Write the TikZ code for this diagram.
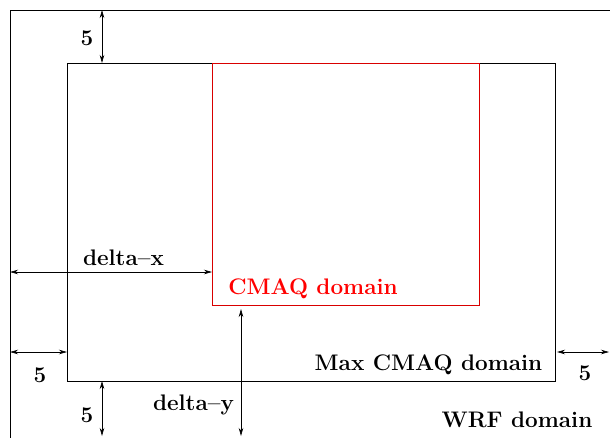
\documentclass[tikz,border=0pt]{standalone}
\usetikzlibrary{arrows.meta}
\begin{document}
\begin{tikzpicture}[x=1pt,y=-1pt,line width=0.9pt,
  tip/.tip={Stealth[length=8pt,width=4.5pt,inset=2.5pt]},
  dim/.style={tip-tip,line width=0.7pt},
  lbl/.style={font=\fontsize{22.5}{26}\selectfont\bfseries,inner sep=0pt,anchor=base}]
\useasboundingbox (0,0) rectangle (610,437);
\clip (0,0) rectangle (610,437);
% WRF domain (outer)
\coordinate (wrfTL) at (10,10);
\coordinate (wrfBL) at (10,445);
\coordinate (wrfTR) at (615,10);
\draw (wrfBL) -- (wrfTL) -- (wrfTR);
% Max CMAQ domain
\coordinate (maxTL) at (67,63);
\coordinate (maxBR) at (555,381);
\draw (maxTL) rectangle (maxBR);
% CMAQ domain
\coordinate (cmTL) at (212,63);
\coordinate (cmBR) at (479,305);
\draw[red!85!black] (cmTL) rectangle (cmBR);
% dimension end points
\coordinate (t1) at (102,10);  \coordinate (t2) at (102,63);
\coordinate (dx1) at (10,272); \coordinate (dx2) at (212,272);
\coordinate (l1) at (10,352);  \coordinate (l2) at (67,352);
\coordinate (b1) at (102,381); \coordinate (b2) at (102,436);
\coordinate (dy1) at (241,309); \coordinate (dy2) at (241,436);
\coordinate (r1) at (557,352); \coordinate (r2) at (609,352);
\draw[dim] (t1) -- (t2);
\draw[dim] (dx1) -- (dx2);
\draw[dim] (l1) -- (l2);
\draw[dim] (b1) -- (b2);
\draw[dim] (dy1) -- (dy2);
\draw[dim] (r1) -- (r2);
% labels
\node[lbl] (lt) at (87,45) {5};
\node[lbl] (ldx) at (123.5,265) {delta--x};
\node[lbl] (ll) at (40,382) {5};
\node[lbl] (lb) at (87,422) {5};
\node[lbl] (ldy) at (193.5,410) {delta--y};
\node[lbl] (lr) at (585,380) {5};
\node[lbl,text=red] (lcm) at (313,294) {CMAQ domain};
\node[lbl] (lmax) at (428.5,370) {Max CMAQ domain};
\node[lbl] (lwrf) at (517,427) {WRF domain};
\end{tikzpicture}
\end{document}
